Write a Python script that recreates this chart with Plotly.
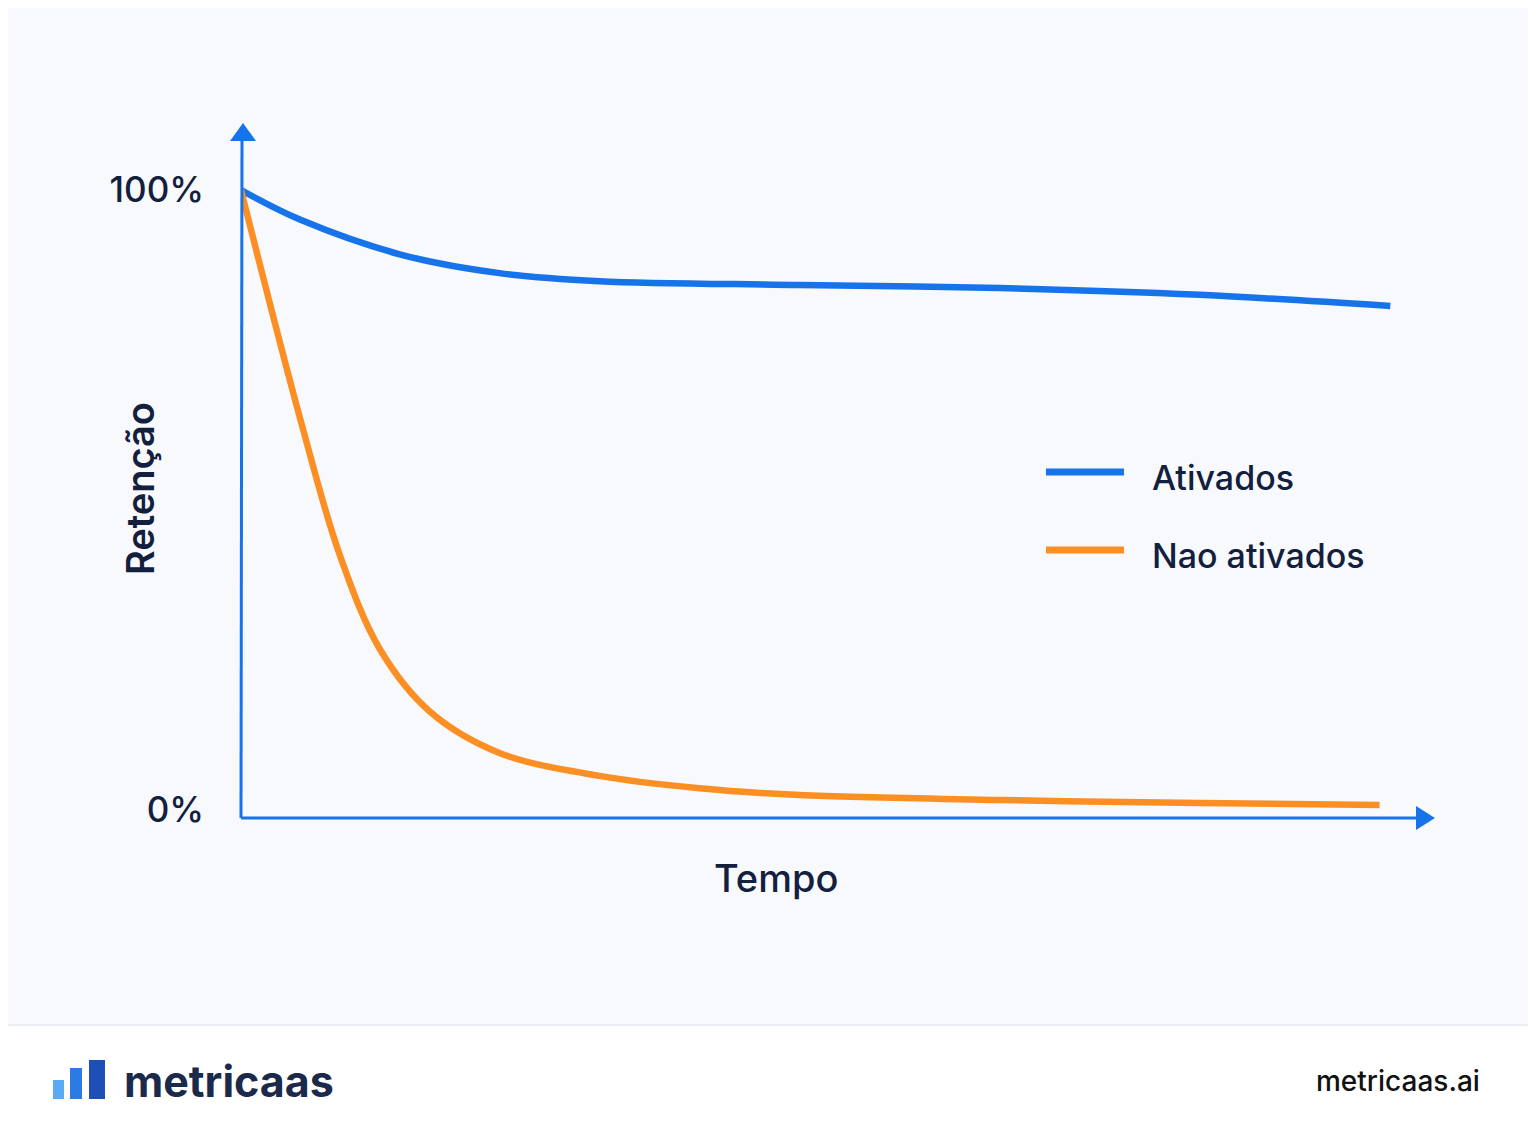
import plotly.graph_objects as go

# data
ativ_x = [0, 5, 13.4, 21.7, 30.1, 46.9, 63.7, 80.5, 96.5]
ativ_y = [100, 95.2, 89.6, 86.6, 85.3, 84.7, 84.2, 83.1, 81.3]
nao_x = [0, 5.0, 8.3, 11.7, 15.9, 21.7, 30.1, 38.5, 46.9, 63.7, 80.5, 95.6]
nao_y = [100, 62.9, 41.1, 25.8, 15.8, 9.2, 5.5, 3.5, 2.4, 1.6, 1.1, 0.8]
tick_vals = [0, 100]
tick_text = ["0%", "100%"]
series_names = ["Ativados", "Nao ativados"]
colors = ["#1673ea", "#fb8f24"]

OFF = 8  # page body margin
W, H = 1536 - OFF, 1136 - OFF
L, R, T, B = 241, 1432, 125, 818
def px(x): return (x - L) / (R - L)
def py(y): return (B - y) / (B - T)

fig = go.Figure()
for xs, ys, c, n in [(ativ_x, ativ_y, colors[0], series_names[0]), (nao_x, nao_y, colors[1], series_names[1])]:
    fig.add_trace(go.Scatter(x=xs, y=ys, mode="lines", name=n, showlegend=False,
                             line=dict(color=c, width=6.5, shape="spline", smoothing=1.0)))

ink = "#13203d"
axc = "#1673ea"
shapes = [
    dict(type="rect", xref="paper", yref="paper", x0=px(0), x1=px(1540), y0=py(1025), y1=py(1140),
         fillcolor="white", line=dict(width=0), layer="below"),
    dict(type="line", xref="paper", yref="paper", x0=px(0), x1=px(1540), y0=py(1025), y1=py(1025),
         line=dict(color="#e3e7ee", width=1.5)),
    dict(type="line", xref="paper", yref="paper", x0=px(241), x1=px(1418), y0=py(818), y1=py(818),
         line=dict(color=axc, width=3)),
    dict(type="line", xref="paper", yref="paper", x0=px(241), x1=px(242), y0=py(818), y1=py(138),
         line=dict(color=axc, width=3)),
    dict(type="path", xref="paper", yref="paper",
         path=f"M {px(1416)} {py(806)} L {px(1435)} {py(818)} L {px(1416)} {py(830)} Z",
         fillcolor=axc, line=dict(width=0)),
    dict(type="path", xref="paper", yref="paper",
         path=f"M {px(230)} {py(141)} L {px(243)} {py(123)} L {px(256)} {py(141)} Z",
         fillcolor=axc, line=dict(width=0)),
]
for yy, c in [(472, colors[0]), (550, colors[1])]:
    shapes.append(dict(type="line", xref="paper", yref="paper", x0=px(1046), x1=px(1124),
                       y0=py(yy), y1=py(yy), line=dict(color=c, width=7)))
for x0, x1, y0, c in [(53, 64, 1080, "#5aaaf6"), (70, 82, 1068, "#2c7be5"), (89, 105, 1060, "#1d4fb6")]:
    shapes.append(dict(type="rect", xref="paper", yref="paper", x0=px(x0), x1=px(x1),
                       y0=py(y0), y1=py(1099), fillcolor=c, line=dict(width=0)))

ann = []
def t(x, y, s, size, xa="left", weight=500, angle=0, color=ink):
    ann.append(dict(xref="paper", yref="paper", x=px(x), y=py(y), text=s,
                    showarrow=False, xanchor=xa, yanchor="middle", textangle=angle,
                    font=dict(size=size, color=color, family="Inter", weight=weight)))
t(1150, 477, series_names[0], 34)
t(1150, 555, series_names[1], 34)
t(776, 878, "Tempo", 38, xa="center")
t(140, 489, "Retenção", 38, xa="center", angle=-90, weight=600)
t(122, 1081, "metricaas", 43, weight=700, color="#1b2a4a")
t(1482, 1081, "metricaas.ai", 28, xa="right", color="#111")

fig.update_layout(
    width=W, height=H, margin=dict(l=L - OFF, r=1536 - R, t=T - OFF, b=1136 - B),
    paper_bgcolor="#f7f9fd", plot_bgcolor="rgba(0,0,0,0)",
    shapes=shapes, annotations=ann,
    xaxis=dict(range=[0, 100], visible=False),
    yaxis=dict(range=[-1.3, 110.5], tickvals=tick_vals, ticktext=tick_text, showgrid=False,
               zeroline=False, showline=False, ticks="", ticklabelstandoff=36,
               tickfont=dict(size=35, color=ink, family="Inter", weight=500)),
)
fig.write_html("out.html")
